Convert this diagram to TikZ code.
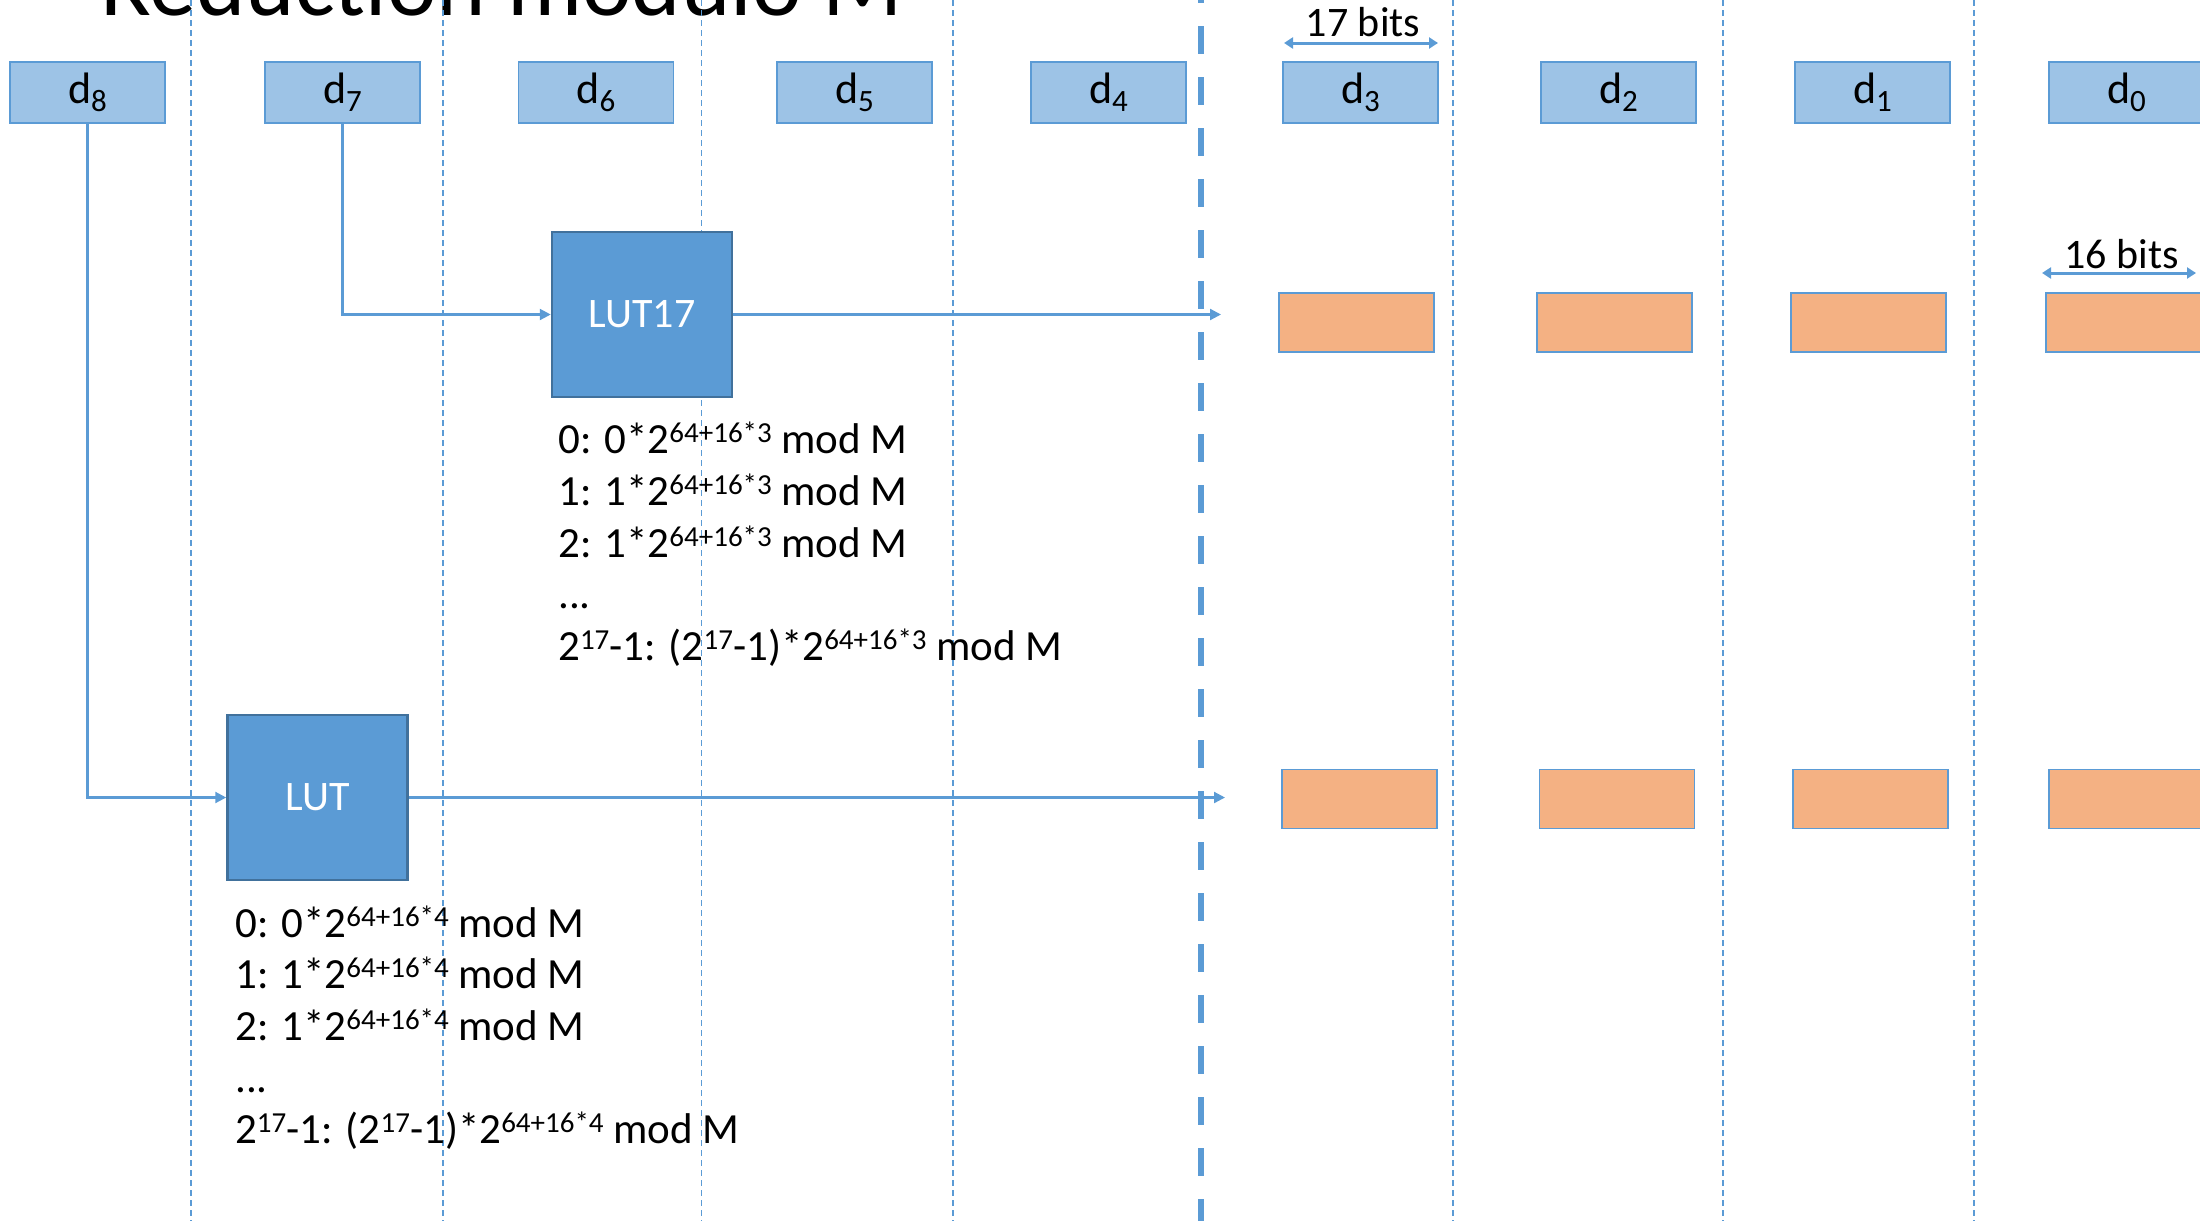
\documentclass[tikz,border=0pt]{standalone}
\usepackage{fontspec}
\setmainfont{Carlito}
\usetikzlibrary{arrows.meta}
\definecolor{accent}{HTML}{5B9BD5}
\definecolor{paleblue}{HTML}{9DC3E6}
\definecolor{peach}{HTML}{F4B183}
\definecolor{lutedge}{HTML}{41719C}
% raised exponent and lowered digit index
\newcommand\upx[1]{\raisebox{11pt}{\fontsize{29}{29}\selectfont #1}}
\newcommand\dsub[1]{d\raisebox{-8pt}{\fontsize{31}{31}\selectfont #1}}
\begin{document}
\begin{tikzpicture}[x=1pt,y=-1pt,
  dbox/.style={draw=accent, line width=1.5pt, fill=paleblue, minimum width=155pt,
    minimum height=61pt, inner sep=0pt, font=\fontsize{44}{44}\selectfont},
  obox/.style={draw=accent, line width=1.5pt, fill=peach, minimum width=155pt,
    minimum height=59pt, inner sep=0pt},
  lutbox/.style={draw=lutedge, line width=2.5pt, fill=accent, text=white,
    minimum width=180pt, minimum height=165pt, inner sep=0pt, font=\fontsize{42}{42}\selectfont},
  arr/.style={draw=accent, line width=2.2pt, -{Triangle[length=11pt,width=11pt]}},
  span/.style={draw=accent, line width=3pt,
    {Triangle[length=9pt,width=11pt]}-{Triangle[length=9pt,width=11pt]}},
  guide/.style={draw=accent, line width=1.2pt, dash pattern=on 6pt off 4pt},
  divider/.style={draw=accent, line width=6pt, dash pattern=on 28pt off 23pt},
  entry/.style={anchor=base west, inner sep=0pt, font=\fontsize{43}{52}\selectfont},
  bits/.style={anchor=base, inner sep=0pt, font=\fontsize{42}{42}\selectfont}]
\useasboundingbox (0,0) rectangle (2200,1221);
\clip (0,0) rectangle (2200,1221);

% title
\node[anchor=base west, inner sep=0pt, font=\fontsize{94}{94}\selectfont] (title) at (100,15) {Reduction modulo M};

% column guides
\foreach \gx in {191,443,701.5,953,1453,1723,1974}
  \draw[guide] (\gx,0) -- (\gx,1221);

% split between high and low digits
\draw[divider] (1201,-25) -- (1201,1221);

% input digits
\node[dbox] (d8) at (87.5,92.5) {\dsub{8}};
\node[dbox] (d7) at (342.5,92.5) {\dsub{7}};
\node[dbox] (d6) at (596,92.5) {\dsub{6}};
\node[dbox] (d5) at (854.5,92.5) {\dsub{5}};
\node[dbox] (d4) at (1108.5,92.5) {\dsub{4}};
\node[dbox] (d3) at (1360.5,92.5) {\dsub{3}};
\node[dbox] (d2) at (1618.5,92.5) {\dsub{2}};
\node[dbox] (d1) at (1872.5,92.5) {\dsub{1}};
\node[dbox] (d0) at (2126.5,92.5) {\dsub{0}};

% width markers
\coordinate (b17l) at (1284,43);
\coordinate (b17r) at (1438,43);
\draw[span] (b17l) -- (b17r);
\node[bits] (t17) at (1363,36) {17 bits};
\coordinate (b16l) at (2042,273);
\coordinate (b16r) at (2196,273);
\draw[span] (b16l) -- (b16r);
\node[bits] (t16) at (2121.5,268) {16 bits};

% table outputs
\node[obox] (oa3) at (1356.5,322.5) {};
\node[obox] (oa2) at (1614.5,322.5) {};
\node[obox] (oa1) at (1868.5,322.5) {};
\node[obox] (oa0) at (2123.5,322.5) {};
\node[obox] (ob3) at (1359.5,799) {};
\node[obox] (ob2) at (1617,799) {};
\node[obox] (ob1) at (1870.5,799) {};
\node[obox] (ob0) at (2126.5,799) {};

% lookup tables
\node[lutbox] (lut17) at (642,314.5) {LUT17};
\node[lutbox] (lut) at (317.5,797.5) {LUT};

\coordinate (outa) at (1221,314.5);
\coordinate (outb) at (1225,797.5);
\draw[arr] (d7.south) |- (lut17.west);
\draw[arr] (d8.south) |- (lut.west);
\draw[arr] (lut17.east) -- (outa);
\draw[arr] (lut.east) -- (outb);

% table contents
\node[entry] (ea1) at (558,453) {0: 0*2\upx{64+16*3} mod M};
\node[entry] (ea2) at (558,505) {1: 1*2\upx{64+16*3} mod M};
\node[entry] (ea3) at (558,557) {2: 1*2\upx{64+16*3} mod M};
\node[entry] (ea4) at (558,608) {...};
\node[entry] (ea5) at (558,660) {2\upx{17}-1: (2\upx{17}-1)*2\upx{64+16*3} mod M};

\node[entry] (eb1) at (235,937) {0: 0*2\upx{64+16*4} mod M};
\node[entry] (eb2) at (235,988) {1: 1*2\upx{64+16*4} mod M};
\node[entry] (eb3) at (235,1040) {2: 1*2\upx{64+16*4} mod M};
\node[entry] (eb4) at (235,1092) {...};
\node[entry] (eb5) at (235,1143) {2\upx{17}-1: (2\upx{17}-1)*2\upx{64+16*4} mod M};
\end{tikzpicture}
\end{document}
